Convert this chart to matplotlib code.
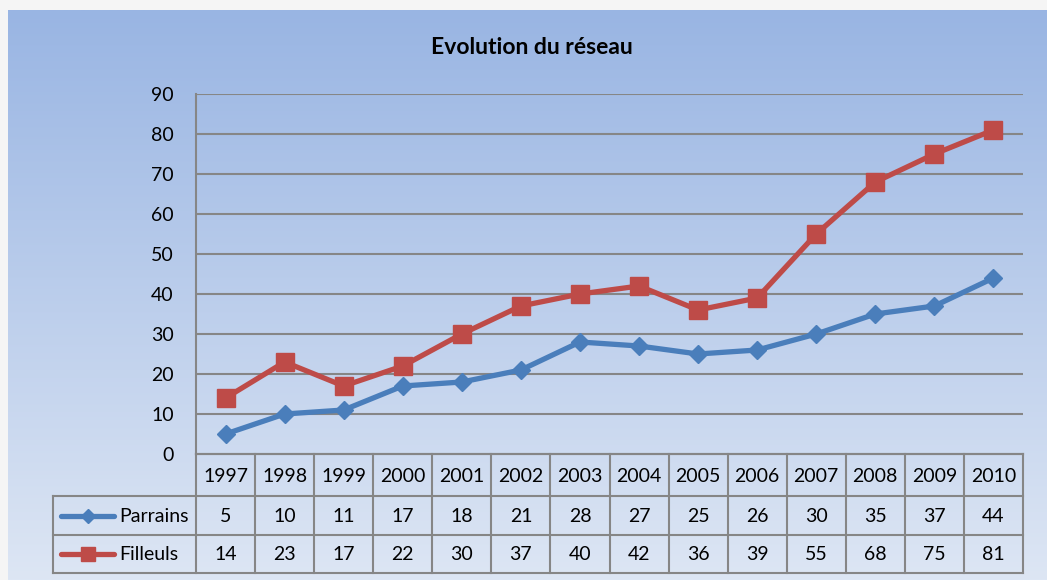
import matplotlib

matplotlib.use("Agg")
import matplotlib.pyplot as plt
import numpy as np
from matplotlib.colors import LinearSegmentedColormap

years = ["1997", "1998", "1999", "2000", "2001", "2002", "2003",
         "2004", "2005", "2006", "2007", "2008", "2009", "2010"]
parrains = [5, 10, 11, 17, 18, 21, 28, 27, 25, 26, 30, 35, 37, 44]
filleuls = [14, 23, 17, 22, 30, 37, 40, 42, 36, 39, 55, 68, 75, 81]
series_names = ["Parrains", "Filleuls"]
yticks = list(range(0, 100, 10))

W, H = 1047, 580
BLUE = "#4a7ebb"
RED = "#be4b48"
GRID = "#868686"
FONT = "Lato"
FS = 14
plt.rcParams["font.family"] = [FONT, "DejaVu Sans"]

fig = plt.figure(figsize=(W / 100, H / 100), dpi=100)
fig.patch.set_facecolor("#f5f5f5")

# background panel in pixel coordinates
bg = fig.add_axes([0, 0, 1, 1])
bg.set_xlim(0, W)
bg.set_ylim(H, 0)
bg.axis("off")
cmap = LinearSegmentedColormap.from_list("bg", ["#99b5e3", "#dde6f4"])
grad = np.linspace(0, 1, 256).reshape(-1, 1)
bg.imshow(grad, cmap=cmap, extent=[8, W, H, 10], aspect="auto", zorder=0)

bg.text(532, 47, "Evolution du réseau", ha="center", va="center",
        fontsize=16.5, fontweight="bold", color="black")

# plot area
x0, x1, ytop, ybot = 196, 1023, 94, 454
ax = fig.add_axes([x0 / W, 1 - ybot / H, (x1 - x0) / W, (ybot - ytop) / H])
ax.patch.set_alpha(0)
n = len(years)
xs = np.arange(n) + 0.5
ax.set_xlim(0, n)
ax.set_ylim(0, 90)
ax.set_yticks(yticks)
ax.set_yticklabels([str(v) for v in yticks], fontsize=FS)
ax.tick_params(axis="y", length=0, pad=16)
ax.set_xticks([])
for s in ["top", "right"]:
    ax.spines[s].set_visible(False)
for s in ["left", "bottom"]:
    ax.spines[s].set_color(GRID)
    ax.spines[s].set_linewidth(1.5)
for v in yticks[1:]:
    ax.axhline(v, color=GRID, lw=1.5, zorder=1)

ax.plot(xs, parrains, color=BLUE, lw=3.8, marker="D", ms=9,
        clip_on=False, zorder=3)
ax.plot(xs, filleuls, color=RED, lw=3.8, marker="s", ms=13.5,
        clip_on=False, zorder=3)

# data table below the plot
cw = (x1 - x0) / n
rows_y = [454, 496, 535, 573]
lx = 53
lkw = dict(color=GRID, lw=1.5, zorder=2)
bg.plot([x0, x1], [rows_y[0], rows_y[0]], **lkw)
for y in rows_y[1:]:
    bg.plot([lx, x1], [y, y], **lkw)
bg.plot([lx, lx], [rows_y[1], rows_y[3]], **lkw)
for i in range(n + 1):
    bg.plot([x0 + i * cw] * 2, [rows_y[0], rows_y[3]], **lkw)

for i, yr in enumerate(years):
    cx = x0 + (i + 0.5) * cw
    bg.text(cx, (rows_y[0] + rows_y[1]) / 2 + 1, yr, ha="center",
            va="center", fontsize=FS)
    bg.text(cx, (rows_y[1] + rows_y[2]) / 2 + 1, str(parrains[i]),
            ha="center", va="center", fontsize=FS)
    bg.text(cx, (rows_y[2] + rows_y[3]) / 2 + 1, str(filleuls[i]),
            ha="center", va="center", fontsize=FS)

for (name, col, mk, ms), r in zip(
        [(series_names[0], BLUE, "D", 7), (series_names[1], RED, "s", 10)],
        range(2)):
    cy = (rows_y[r + 1] + rows_y[r + 2]) / 2
    bg.plot([61, 114], [cy, cy], color=col, lw=3.8, solid_capstyle="round",
            zorder=3)
    bg.plot([87.5], [cy], color=col, marker=mk, ms=ms, zorder=3)
    bg.text(119, cy + 1, name, ha="left", va="center", fontsize=FS)

fig.savefig("out.png", dpi=100, facecolor=fig.get_facecolor())
